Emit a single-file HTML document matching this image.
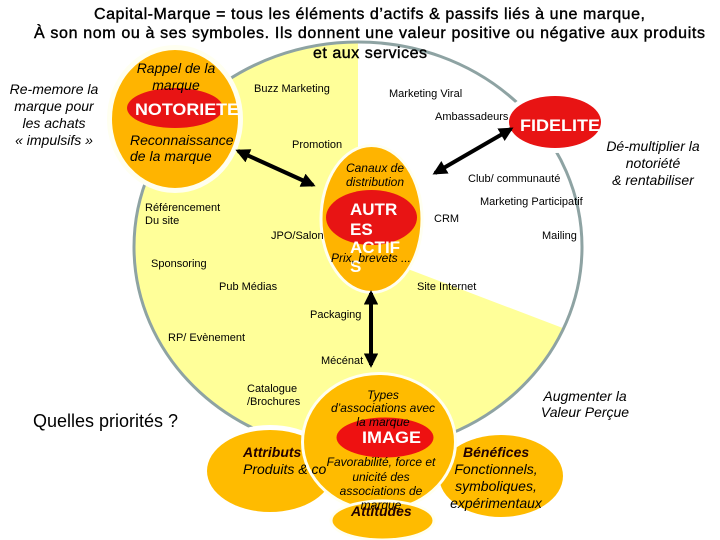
<!DOCTYPE html>
<html><head><meta charset="utf-8"><style>
html,body{margin:0;padding:0;background:#fff;width:720px;height:540px;overflow:hidden}
svg{display:block}
text{font-family:"Liberation Sans",sans-serif;fill:#000}
.s{font-size:11px}
.h{font-size:14px;font-style:italic}
.j{font-size:12px;font-style:italic}
.t{font-size:16px;stroke:#000;stroke-width:.4px}
.w{font-weight:bold;fill:#fff;font-size:17px}
.b{font-size:14px;font-weight:bold;font-style:italic;fill:#200}
</style></head><body>
<svg width="720" height="540" viewBox="0 0 720 540" xmlns="http://www.w3.org/2000/svg">
<defs>
<marker id="a" viewBox="0 0 10 10" refX="8" refY="5" markerWidth="3.6" markerHeight="3.6" orient="auto-start-reverse"><path d="M0 0L10 5L0 10z" fill="#000"/></marker>
<clipPath id="c"><ellipse cx="358" cy="247" rx="224" ry="205"/></clipPath>
</defs>
<polygon points="358,250 720,388 720,540 0,540 0,0 358,0" fill="#ffff99" clip-path="url(#c)"/>
<ellipse cx="358" cy="247" rx="224" ry="205" fill="none" stroke="#8ea3a3" stroke-width="3"/>

<ellipse cx="270" cy="471" rx="68" ry="46" fill="#fff"/>
<ellipse cx="501" cy="476" rx="67" ry="46" fill="#fff"/>
<ellipse cx="270" cy="471" rx="63" ry="41" fill="#ffbb00"/>
<ellipse cx="501" cy="476" rx="62" ry="41" fill="#ffbb00"/>

<ellipse cx="175" cy="119" rx="68" ry="74" fill="#fffff0"/>
<ellipse cx="175" cy="119" rx="63" ry="69" fill="#ffb400"/>
<ellipse cx="175" cy="108" rx="48" ry="20" fill="#e81414"/>

<ellipse cx="371.5" cy="219" rx="52" ry="75" fill="#fffff0"/>
<ellipse cx="371.5" cy="219" rx="49" ry="72" fill="#ffb400"/>
<ellipse cx="371.5" cy="217.5" rx="45.5" ry="27.5" fill="#e81414"/>

<ellipse cx="555" cy="122" rx="51" ry="31" fill="#fff"/>
<ellipse cx="555" cy="122" rx="46" ry="26" fill="#e81414"/>

<ellipse cx="379" cy="442" rx="78" ry="70" fill="#fffff0"/>
<ellipse cx="379" cy="442" rx="75" ry="67" fill="#ffbb00"/>
<ellipse cx="385" cy="437.5" rx="48.5" ry="20" fill="#ee1111"/>
<ellipse cx="382.5" cy="520.5" rx="53" ry="21" fill="#fffff0"/>
<ellipse cx="382.5" cy="520.5" rx="50" ry="18" fill="#ffbb00"/>

<g stroke="#000" stroke-width="4" fill="none">
<line x1="238" y1="151" x2="313" y2="185" marker-start="url(#a)" marker-end="url(#a)"/>
<line x1="511" y1="129" x2="435" y2="173" marker-start="url(#a)" marker-end="url(#a)"/>
<line x1="371" y1="293" x2="371" y2="365" marker-start="url(#a)" marker-end="url(#a)"/>
</g>

<text class="t" x="94" y="19" textLength="551" lengthAdjust="spacing">Capital-Marque  = tous les éléments d’actifs &amp; passifs liés à une marque,</text>
<text class="t" x="34" y="38" textLength="671" lengthAdjust="spacing">À son nom ou à ses symboles. Ils donnent une  valeur positive ou négative aux produits</text>
<text class="t" x="313" y="58" textLength="114" lengthAdjust="spacing">et aux services</text>

<g class="h" text-anchor="middle">
<text x="54" y="94">Re-memore la</text>
<text x="54" y="111">marque pour</text>
<text x="54" y="128">les achats</text>
<text x="54" y="145">« impulsifs »</text>
<text x="176" y="73">Rappel de la</text>
<text x="176" y="90">marque</text>
<text x="653" y="151">Dé-multiplier la</text>
<text x="653" y="168">notoriété</text>
<text x="653" y="185">&amp; rentabiliser</text>
<text x="585" y="401">Augmenter la</text>
<text x="585" y="417">Valeur Perçue</text>
</g>
<text class="h" x="130" y="145">Reconnaissance</text>
<text class="h" x="130" y="161">de la marque</text>

<text class="w" x="135" y="115" textLength="104" lengthAdjust="spacingAndGlyphs">NOTORIETE</text>
<text class="w" x="520" y="131" textLength="80" lengthAdjust="spacingAndGlyphs">FIDELITE</text>
<text class="w" x="350" y="215">AUTR</text>
<text class="w" x="350" y="235">ES</text>
<text class="w" x="350" y="253">ACTIF</text>
<text class="w" x="350" y="272">S</text>
<text class="w" x="362" y="443" textLength="59" lengthAdjust="spacingAndGlyphs">IMAGE</text>

<g class="s">
<text x="254" y="92">Buzz Marketing</text>
<text x="389" y="97">Marketing Viral</text>
<text x="435" y="120">Ambassadeurs</text>
<text x="292" y="148">Promotion</text>
<text x="468" y="182">Club/ communauté</text>
<text x="480" y="205">Marketing Participatif</text>
<text x="145" y="211">Référencement</text>
<text x="145" y="224">Du site</text>
<text x="434" y="222">CRM</text>
<text x="542" y="239">Mailing</text>
<text x="271" y="239">JPO/Salon</text>
<text x="151" y="267">Sponsoring</text>
<text x="219" y="290">Pub Médias</text>
<text x="417" y="290">Site Internet</text>
<text x="310" y="318">Packaging</text>
<text x="168" y="341">RP/ Evènement</text>
<text x="321" y="364">Mécénat</text>
<text x="247" y="392">Catalogue</text>
<text x="247" y="405">/Brochures</text>
</g>

<g class="j" text-anchor="middle">
<text x="375" y="172">Canaux de</text>
<text x="375" y="186">distribution</text>
<text x="371" y="262">Prix, brevets ...</text>
<text x="383" y="399">Types</text>
<text x="383" y="412">d’associations avec</text>
<text x="383" y="426">la marque</text>
<text x="381" y="466">Favorabilité, force et</text>
<text x="381" y="481">unicité des</text>
<text x="381" y="495">associations de</text>
<text x="381" y="509">marque</text>
</g>

<text x="33" y="427" style="font-size:18px">Quelles priorités ?</text>

<text class="b" x="243" y="457">Attributs</text>
<text class="h" x="243" y="474">Produits &amp; co</text>
<text class="b" x="463" y="457">Bénéfices</text>
<g class="h" text-anchor="middle">
<text x="496" y="474">Fonctionnels,</text>
<text x="496" y="491">symboliques,</text>
<text x="496" y="508">expérimentaux</text>
</g>
<text class="b" x="351" y="516">Attitudes</text>
</svg>
</body></html>
